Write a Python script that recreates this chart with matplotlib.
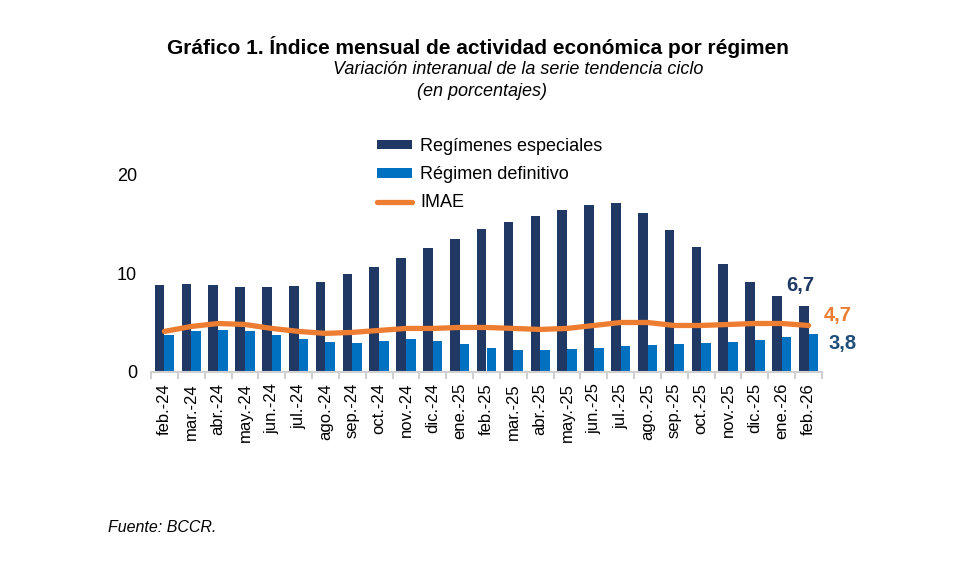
import matplotlib
matplotlib.use("Agg")
import matplotlib.pyplot as plt
import numpy as np

plt.rcParams['font.family'] = ['Liberation Sans', 'DejaVu Sans']

categories = ["feb.-24", "mar.-24", "abr.-24", "may.-24", "jun.-24", "jul.-24",
              "ago.-24", "sep.-24", "oct.-24", "nov.-24", "dic.-24", "ene.-25",
              "feb.-25", "mar.-25", "abr.-25", "may.-25", "jun.-25", "jul.-25",
              "ago.-25", "sep.-25", "oct.-25", "nov.-25", "dic.-25", "ene.-26",
              "feb.-26"]
especiales = [8.8, 8.9, 8.8, 8.6, 8.6, 8.7, 9.1, 9.9, 10.6, 11.5, 12.5, 13.4,
              14.4, 15.2, 15.8, 16.4, 16.9, 17.1, 16.1, 14.3, 12.6, 10.9, 9.1,
              7.7, 6.7]
definitivo = [3.7, 4.1, 4.2, 4.1, 3.7, 3.3, 3.0, 2.9, 3.1, 3.3, 3.1, 2.8,
              2.4, 2.2, 2.2, 2.3, 2.4, 2.6, 2.7, 2.8, 2.9, 3.0, 3.2, 3.5, 3.8]
imae = [4.1, 4.6, 4.9, 4.8, 4.4, 4.1, 3.9, 4.0, 4.2, 4.4, 4.4, 4.5,
        4.5, 4.4, 4.3, 4.4, 4.7, 5.0, 5.0, 4.7, 4.7, 4.8, 4.9, 4.9, 4.7]
yticks = [0, 10, 20]

c_dark = "#203864"
c_light = "#0070C0"
c_orange = "#ED7D31"

fig = plt.figure(figsize=(9.79, 5.70), dpi=100)
ax = fig.add_axes([151/979, 1-372/570, (822-151)/979, (372-174)/570])

x = np.arange(len(categories))
w = 0.36
b1 = ax.bar(x - w/2, especiales, width=w, color=c_dark, label="Regímenes especiales", zorder=2)
b2 = ax.bar(x + w/2, definitivo, width=w, color=c_light, label="Régimen definitivo", zorder=2)
l1, = ax.plot(x, imae, color=c_orange, lw=3.8, solid_capstyle='round', solid_joinstyle='round',
              label="IMAE", zorder=3)

ax.set_xlim(-0.5, len(categories) - 0.5)
ax.set_ylim(0, 20)
ax.set_yticks(yticks)
ax.set_yticklabels([str(v) for v in yticks], fontsize=13)
ax.tick_params(axis='y', length=0, pad=10)
ax.set_xticks(x)
ax.set_xticklabels(categories, rotation=90, fontsize=12)
ax.set_xticks(np.arange(len(categories) + 1) - 0.5, minor=True)
ax.tick_params(axis='x', which='major', length=0, pad=8)
ax.tick_params(axis='x', which='minor', length=5, color="#D0D0D0", width=1.5)
for s in ['top', 'right', 'left']:
    ax.spines[s].set_visible(False)
ax.spines['bottom'].set_color("#D0D0D0")
ax.spines['bottom'].set_linewidth(1.5)

ax.annotate("6,7", xy=(x[-1], especiales[-1]), xytext=(800, 570-285), textcoords='figure pixels',
            ha='center', va='center', fontsize=14.5, fontweight='bold', color=c_dark)
ax.annotate("4,7", xy=(x[-1], imae[-1]), xytext=(838, 570-316), textcoords='figure pixels',
            ha='center', va='center', fontsize=14.5, fontweight='bold', color=c_orange)
ax.annotate("3,8", xy=(x[-1], definitivo[-1]), xytext=(843, 570-343), textcoords='figure pixels',
            ha='center', va='center', fontsize=14.5, fontweight='bold', color="#1F4E79")

leg = fig.legend(handles=[b1, b2, l1], loc='upper left', bbox_to_anchor=(377/979, 1-138/570),
                 frameon=False, fontsize=13, handlelength=1.95, handleheight=0.45,
                 handletextpad=0.45, labelspacing=0.62, borderaxespad=0, borderpad=0)

fig.text(478/979, 1-47/570, "Gráfico 1. Índice mensual de actividad económica por régimen",
         ha='center', va='center', fontsize=15, fontweight='bold')
fig.text(518/979, 1-70/570, "Variación interanual de la serie tendencia ciclo",
         ha='center', va='center', fontsize=13, style='italic')
fig.text(482/979, 1-91/570, "(en porcentajes)",
         ha='center', va='center', fontsize=13, style='italic')
fig.text(108/979, 1-527/570, "Fuente: BCCR.", ha='left', va='center', fontsize=11.5, style='italic')

fig.savefig("out.png", dpi=100)
